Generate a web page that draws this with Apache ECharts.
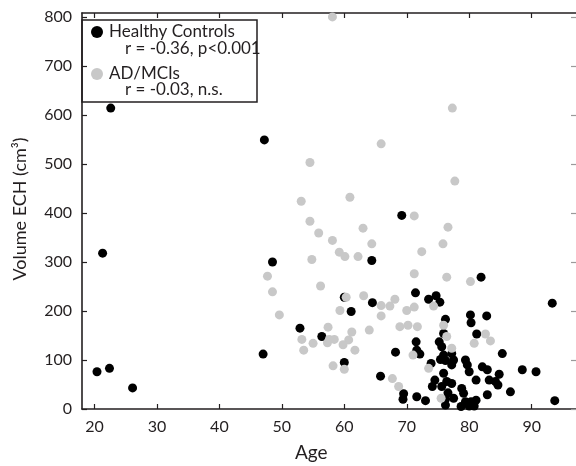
<!DOCTYPE html>
<html>
<head>
<meta charset="utf-8">
<script src="https://cdn.jsdelivr.net/npm/echarts@6/dist/echarts.min.js"></script>
<style>
html,body{margin:0;padding:0;background:#fff;}
#chart{width:576px;height:466px;}
</style>
</head>
<body>
<div id="chart"></div>
<script>
// ---- data (age, volume ECH cm3) ----
const healthyControls = [
  [20.4,76],[22.4,83],[21.3,318],[22.6,614],[26.1,43],
  [47.2,549],[48.5,300],[47.0,112],[52.9,165],[56.4,148],[60.0,228],[60.0,95],[61.1,199],
  [64.5,217],[64.4,303],[65.8,67],[68.2,116],[69.2,395],[69.5,31],[69.4,20],
  [71.4,237],[73.5,224],[74.7,231],[75.3,218],[76.2,183],[80.2,192],[80.3,176],[82.8,190],
  [81.9,269],[93.3,216],
  [71.5,137],[71.6,120],[72.1,112],[71.6,25],[73.0,17],[73.9,93],
  [81.2,153],[75.9,154],[75.2,137],[75.6,127],[77.2,113],[85.3,113],[75.9,110],[76.2,99],[75.4,101],
  [77.5,100],[77.2,90],[79.4,100],[79.7,90],[80.0,76],
  [82.1,86],[82.9,80],[75.9,73],[81.1,59],[83.2,59],[84.8,71],[84.2,56],[74.5,59],[76.4,56],
  [77.2,52],[74.1,46],[75.6,46],[78.8,42],[79.1,32],[86.6,35],[82.9,29],[76.6,33],[77.5,22],
  [76.2,20],[79.4,15],[80.3,15],[81.1,18],[80.0,6],[80.8,6],[78.7,5],[76.2,8],
  [88.5,80],[90.7,76],[93.7,17],[84.6,49]
];
const adMcis = [
  [58.1,800],[77.3,614],[65.9,541],[54.5,503],[77.7,465],[53.1,424],[60.9,432],[71.2,394],
  [54.5,383],[55.9,359],[58.1,344],[63.0,369],[64.4,337],[76.6,371],[75.8,337],[72.4,321],
  [59.2,320],[60.1,311],[62.2,311],[54.8,305],
  [47.7,271],[48.5,239],[49.6,192],[56.2,251],[60.3,228],[59.3,201],[63.1,231],[65.9,211],
  [67.3,210],[68.1,224],[65.9,190],[70.0,201],[71.2,208],[71.2,276],[76.4,269],[80.2,260],[74.3,210],
  [57.4,167],[61.2,157],[64.0,161],[68.9,168],[70.2,171],[71.7,168],[75.9,171],[76.4,148],
  [77.2,124],[82.6,153],[83.4,139],[80.8,134],
  [53.2,142],[53.5,120],[55.0,134],[57.6,142],[58.4,142],[57.3,135],[60.7,141],[59.8,131],
  [61.7,120],[58.2,88],[60.0,81],[71.0,110],[73.5,83],[67.7,62],[68.7,46],[75.5,22]
];
const xTicks = [20,30,40,50,60,70,80,90];
const yTicks = [0,100,200,300,400,500,600,700,800];
const seriesNames = ['Healthy Controls','AD/MCIs'];
const statLines = ['r = -0.36, p<0.001','r = -0.03, n.s.'];

const FONT = 'Lato';
const AXC = '#231f20';
const chart = echarts.init(document.getElementById('chart'), null, {renderer:'canvas'});

function xAxisDef(pos, show) {
  return {
    type:'value', position:pos, min:18, max:97.1,
    axisLine:{show:true, onZero:false, lineStyle:{color:AXC, width:1.6}},
    axisTick:{show:true, inside:true, length:5, customValues:xTicks, lineStyle:{color:AXC, width:1.2}},
    axisLabel:{show:show, customValues:xTicks, margin:10, color:'#231f20', fontFamily:FONT, fontSize:16},
    splitLine:{show:false}
  };
}
function yAxisDef(pos, show) {
  return {
    type:'value', position:pos, min:0, max:808,
    axisLine:{show:show, onZero:false, lineStyle:{color:AXC, width:1.6}},
    axisTick:{show:true, inside:true, length:5, customValues:yTicks, lineStyle:{color: show ? AXC : '#9a9a9a', width:1.2}},
    axisLabel:{show:show, customValues:yTicks, margin:10, color:'#231f20', fontFamily:FONT, fontSize:16},
    splitLine:{show:false}
  };
}

const option = {
  animation:false,
  backgroundColor:'#fff',
  grid:{left:82, top:13, width:496, height:396, containLabel:false},
  xAxis:[xAxisDef('bottom', true), xAxisDef('top', false)],
  yAxis:[yAxisDef('left', true), yAxisDef('right', false)],
  series:[
    {name:seriesNames[0], type:'scatter', data:healthyControls, symbol:'circle', symbolSize:9,
     itemStyle:{color:'#000000', opacity:1}, z:2},
    {name:seriesNames[1], type:'scatter', data:adMcis, symbol:'circle', symbolSize:9,
     itemStyle:{color:'#c8c8c8', opacity:1}, z:3}
  ],
  graphic:[
    {type:'text', left:312 - 17, top:443, style:{text:'Age', font:'19px ' + FONT, fill:'#231f20'}},
    {type:'text', x:20, y:209, rotation:Math.PI/2,
     style:{text:'Volume ECH (cm³)', font:'18px ' + FONT, fill:'#231f20', align:'center', verticalAlign:'middle'}},
    {type:'group', z:100, children:[
      {type:'rect', shape:{x:82, y:20, width:175, height:82}, style:{fill:'#fff', stroke:AXC, lineWidth:1.5}},
      {type:'circle', shape:{cx:97, cy:32, r:6}, style:{fill:'#000000'}},
      {type:'text', x:109, y:32, style:{text:seriesNames[0], font:'17px ' + FONT, fill:'#231f20', verticalAlign:'middle'}},
      {type:'text', x:125, y:49, style:{text:statLines[0], font:'17px ' + FONT, fill:'#231f20', verticalAlign:'middle'}},
      {type:'circle', shape:{cx:97, cy:74, r:6}, style:{fill:'#c8c8c8'}},
      {type:'text', x:109, y:74, style:{text:seriesNames[1], font:'17px ' + FONT, fill:'#231f20', verticalAlign:'middle'}},
      {type:'text', x:125, y:90, style:{text:statLines[1], font:'17px ' + FONT, fill:'#231f20', verticalAlign:'middle'}}
    ]}
  ]
};
chart.setOption(option);
</script>
</body>
</html>
